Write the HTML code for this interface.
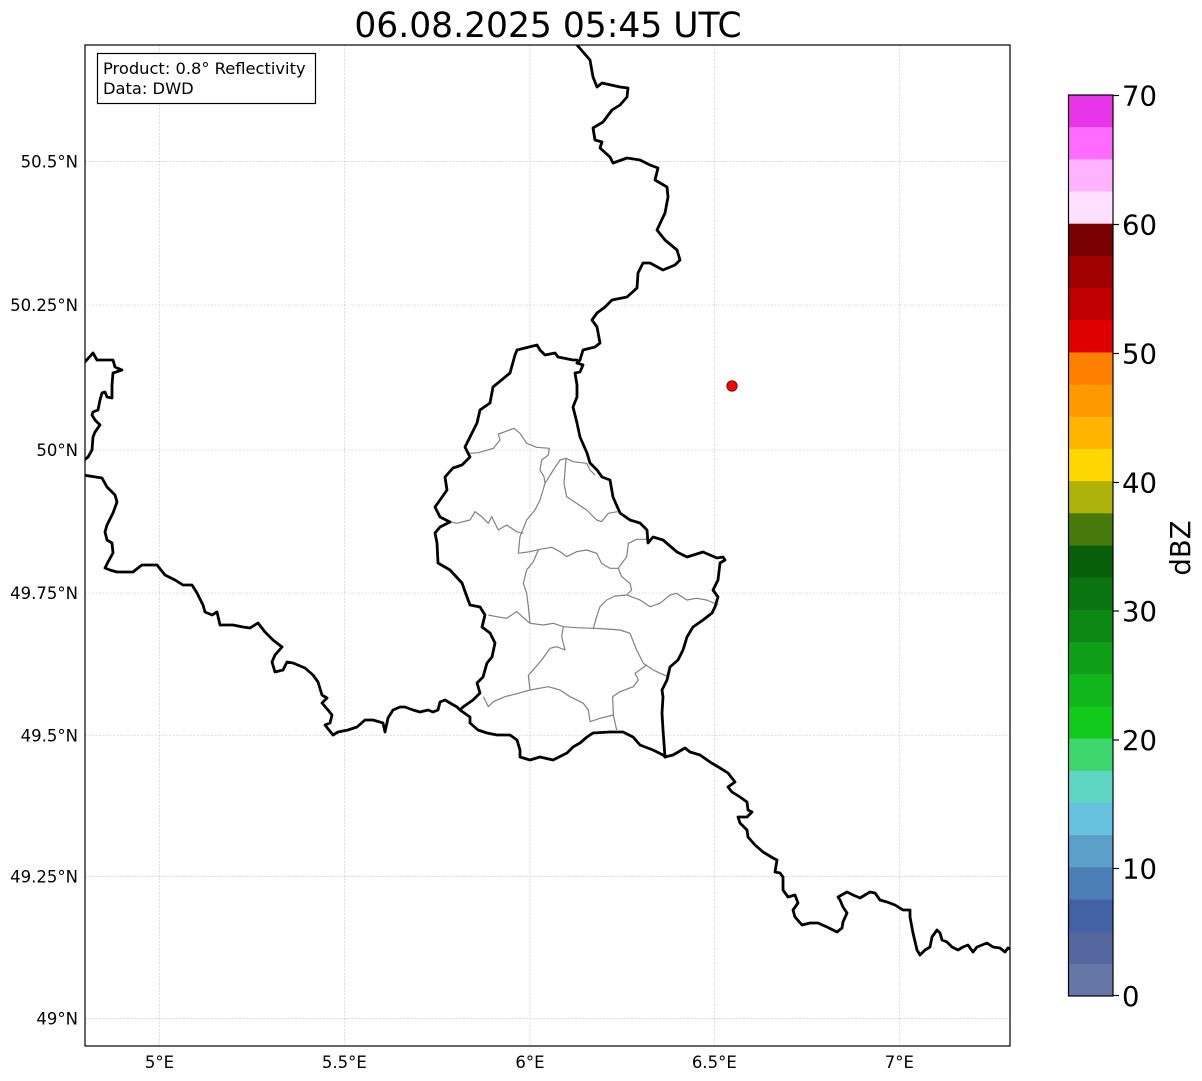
<!DOCTYPE html>
<html>
<head>
<meta charset="utf-8">
<style>
html,body{margin:0;padding:0;background:#fff;}
svg{display:block;}
text{font-family:"DejaVu Sans","Liberation Sans",sans-serif;fill:#000;}
</style>
</head>
<body>
<svg width="1202" height="1081" viewBox="0 0 1202 1081" xmlns="http://www.w3.org/2000/svg">
<rect x="0" y="0" width="1202" height="1081" fill="#fff"/>

<!-- Title -->
<text x="548" y="37" font-size="34.5" text-anchor="middle">06.08.2025 05:45 UTC</text>

<!-- Map axes -->
<defs><clipPath id="mapclip"><rect x="85" y="45" width="925" height="1001"/></clipPath></defs>
<g clip-path="url(#mapclip)">
  <!-- gridlines -->
  <g stroke="#c4c4c4" stroke-width="0.6" stroke-dasharray="2,1.5" fill="none">
    <line x1="159.5" y1="45" x2="159.5" y2="1046"/>
    <line x1="344.3" y1="45" x2="344.3" y2="1046"/>
    <line x1="530" y1="45" x2="530" y2="1046"/>
    <line x1="714.3" y1="45" x2="714.3" y2="1046"/>
    <line x1="899.3" y1="45" x2="899.3" y2="1046"/>
    <line x1="85" y1="161.7" x2="1010" y2="161.7"/>
    <line x1="85" y1="305" x2="1010" y2="305"/>
    <line x1="85" y1="450" x2="1010" y2="450"/>
    <line x1="85" y1="593" x2="1010" y2="593"/>
    <line x1="85" y1="735.5" x2="1010" y2="735.5"/>
    <line x1="85" y1="876.7" x2="1010" y2="876.7"/>
    <line x1="85" y1="1018.7" x2="1010" y2="1018.7"/>
  </g>

  <!-- canton lines (in zoom coords) -->
  <g transform="translate(420,330) scale(0.33333)" fill="none" stroke="#808080" stroke-width="3.6" stroke-linejoin="round">
    <polyline points="150,370 175,368 220,355 240,330 235,312 255,305 282,295 300,310 320,340 350,352 388,355 385,375 365,390 360,420 372,440 375,460"/>
    <polyline points="375,460 400,420 420,390 438,385 460,395 500,400 510,420 525,435"/>
    <polyline points="438,385 432,460 440,500 470,520 500,540 530,570 545,575 565,550 592,545"/>
    <polyline points="375,460 360,510 345,540 320,570 300,620 295,670"/>
    <polyline points="90,575 110,580 150,570 165,545 185,560 205,580 215,560 235,600 260,585 290,605 310,610"/>
    <polyline points="295,670 330,665 360,658 395,652 420,665 440,680 470,665 500,660 530,670 545,700 570,715 595,715 620,680 625,640 650,628 680,628"/>
    <polyline points="595,715 605,740 630,760 635,780 620,795"/>
    <polyline points="355,660 340,695 320,720 310,760 320,790 325,830 330,880"/>
    <polyline points="620,795 585,798 560,810 540,830 530,860 520,895"/>
    <polyline points="620,795 660,810 690,830 720,820 750,795 770,790 800,810 830,805 860,810 895,825"/>
    <polyline points="330,880 370,885 400,880 430,890 470,893 520,895 560,897 600,900 630,910 650,960 670,1000 700,1020 720,1030 745,1040"/>
    <polyline points="330,880 290,845 260,865 230,860 205,855"/>
    <polyline points="430,890 425,920 435,960 410,950 390,955 365,990 335,1025 325,1035"/>
    <polyline points="325,1035 330,1080 295,1090 255,1100 220,1115 205,1130 190,1100"/>
    <polyline points="330,1080 385,1070 420,1080 450,1100 490,1120 505,1140 510,1175 540,1165 580,1155 590,1200"/>
    <polyline points="580,1155 578,1100 600,1085 640,1070 655,1050 645,1030 680,1005"/>
  </g>

  <!-- country borders -->
  <g fill="none" stroke="#000" stroke-width="2.8" stroke-linejoin="round" stroke-linecap="round">
    <polyline points="577,45 590,60 593,77 597,87 602,83 620,87 628,88 627,97 620,105 612,110 603,122 593,128 595,140 602,142 600,148 610,157 613,163 627,158 640,160 650,165 658,168 655,180 667,187 668,197 665,213 657,230 665,240 677,250 680,260 675,265 663,270 650,263 643,263 638,273 637,288 627,297 612,300 605,307 597,313 592,320 597,327 600,343 595,347 583,350 580,360 577,363"/>
    <polyline points="577,363 583,365 580,372 575,373 577,385 577,397 573,407 577,423 580,437 587,453 590,463 597,470 602,477 610,480 613,497 620,513 630,520 640,523 647,530 648,543 653,537 663,540 677,552 687,557 703,552 717,558 723,557 725,560 720,563 718,580 713,590 718,597 715,607 712,613 703,620 693,627 687,637 683,650 678,660 670,667 667,680 662,690 663,697 662,713 663,730 665,757"/>
    <polyline points="577,360 573,360 558,357 555,353 545,355 540,350 537,345 517,350 515,355 510,373 493,387 490,403 480,410 477,423 470,437 465,447 470,457 462,465 453,468 445,477 447,490 440,500 435,507 440,517 450,522 440,527 435,533 437,543 438,563 450,570 462,583 467,597 470,605 480,607 485,615 482,627 490,633 495,643 492,657 487,663 483,677 477,683 480,693 473,700 463,707 460,710"/>
    <polyline points="460,710 470,717 470,723 478,730 487,733 497,735 510,735 517,740 520,750 520,757 530,760 540,757 553,760 567,753 573,747 580,743 587,737 593,733 610,732 623,732 633,737 640,745 653,750 663,755 665,757"/>
    <polyline points="665,757 673,755 685,748 690,752 700,755 710,762 720,768 728,773 735,782 728,787 732,792 740,797 747,802 748,810 752,812 747,817 738,817 740,823 747,830 748,837 755,845 763,852 773,858 777,860 775,872 780,873 783,877 783,890 788,897 795,895 798,903 793,910 795,917 802,925 810,923 818,923 827,927 837,932 842,928 843,922 847,913 843,907 840,900 838,897 847,892 853,895 860,898 870,892 875,893 880,900 887,902 895,905 903,910 910,910 910,917 913,933 917,950 920,955 925,950 930,947 932,937 937,930 940,933 942,940 947,942 952,947 958,950 963,947 968,945 973,952 977,947 987,943 993,947 1000,948 1005,952 1008,948 1012,950"/>
    <polyline points="83,475 102,478 107,487 115,495 117,502 113,513 107,525 105,532 107,540 112,543 113,553 108,562 105,568 110,570 117,572 125,572 133,572 138,568 142,565 157,565 165,575 175,580 183,585 192,585 197,593 203,605 205,612 212,615 217,612 220,625 233,625 243,627 250,628 258,623 265,632 273,640 282,647 275,655 272,662 275,672 283,670 287,662 293,663 305,668 313,675 318,682 322,695 327,698 322,703 328,710 332,715 330,723 325,725 333,735 338,732 348,730 357,727 365,720 373,720 383,723 385,732 388,718 393,710 400,707 405,707 413,710 420,712 428,710 433,712 438,710 440,702 445,700 450,703 457,707 460,710"/>
    <polyline points="83,364 93,353 97,360 113,360 115,367 122,370 113,373 112,385 112,398 107,397 105,392 102,393 100,400 98,410 93,412 92,415 95,420 100,425 95,432 93,437 92,450 88,457 83,461"/>
  </g>

  <!-- radar site -->
  <circle cx="732" cy="386" r="5.2" fill="#ff0000" stroke="#600000" stroke-width="0.8"/>
</g>
<rect x="85" y="45" width="925" height="1001" fill="none" stroke="#000" stroke-width="1.2"/>

<!-- info box -->
<rect x="97.5" y="53.5" width="218" height="50" fill="#fff" stroke="#000" stroke-width="1.2"/>
<text x="103" y="74" font-size="16.3">Product: 0.8° Reflectivity</text>
<text x="103" y="94" font-size="16.3">Data: DWD</text>

<!-- lat labels -->
<g font-size="16.5" text-anchor="end">
  <text x="78" y="167.5">50.5°N</text>
  <text x="78" y="311">50.25°N</text>
  <text x="78" y="456">50°N</text>
  <text x="78" y="599">49.75°N</text>
  <text x="78" y="741.5">49.5°N</text>
  <text x="78" y="882.7">49.25°N</text>
  <text x="78" y="1024.7">49°N</text>
</g>
<!-- lon labels -->
<g font-size="16.5" text-anchor="middle">
  <text x="159.5" y="1068">5°E</text>
  <text x="344.3" y="1068">5.5°E</text>
  <text x="530" y="1068">6°E</text>
  <text x="714.3" y="1068">6.5°E</text>
  <text x="899.3" y="1068">7°E</text>
</g>

<!-- colorbar -->
<g>
  <rect x="1068" y="95.00" width="45" height="32.7" fill="#E935E9"/>
  <rect x="1068" y="127.18" width="45" height="32.7" fill="#FF6BFF"/>
  <rect x="1068" y="159.36" width="45" height="32.7" fill="#FFB3FF"/>
  <rect x="1068" y="191.54" width="45" height="32.7" fill="#FFE0FF"/>
  <rect x="1068" y="223.71" width="45" height="32.7" fill="#780000"/>
  <rect x="1068" y="255.89" width="45" height="32.7" fill="#A00000"/>
  <rect x="1068" y="288.07" width="45" height="32.7" fill="#C00000"/>
  <rect x="1068" y="320.25" width="45" height="32.7" fill="#E00000"/>
  <rect x="1068" y="352.43" width="45" height="32.7" fill="#FF7F00"/>
  <rect x="1068" y="384.61" width="45" height="32.7" fill="#FF9900"/>
  <rect x="1068" y="416.79" width="45" height="32.7" fill="#FFB400"/>
  <rect x="1068" y="448.96" width="45" height="32.7" fill="#FFD700"/>
  <rect x="1068" y="481.14" width="45" height="32.7" fill="#ADB30A"/>
  <rect x="1068" y="513.32" width="45" height="32.7" fill="#477A0A"/>
  <rect x="1068" y="545.50" width="45" height="32.7" fill="#075F0A"/>
  <rect x="1068" y="577.68" width="45" height="32.7" fill="#0A7411"/>
  <rect x="1068" y="609.86" width="45" height="32.7" fill="#0C8814"/>
  <rect x="1068" y="642.04" width="45" height="32.7" fill="#0E9F17"/>
  <rect x="1068" y="674.21" width="45" height="32.7" fill="#10B61A"/>
  <rect x="1068" y="706.39" width="45" height="32.7" fill="#12CA1C"/>
  <rect x="1068" y="738.57" width="45" height="32.7" fill="#3DD76E"/>
  <rect x="1068" y="770.75" width="45" height="32.7" fill="#5ED6C4"/>
  <rect x="1068" y="802.93" width="45" height="32.7" fill="#66C2DE"/>
  <rect x="1068" y="835.11" width="45" height="32.7" fill="#5AA0C8"/>
  <rect x="1068" y="867.29" width="45" height="32.7" fill="#4A7EB5"/>
  <rect x="1068" y="899.46" width="45" height="32.7" fill="#4262A5"/>
  <rect x="1068" y="931.64" width="45" height="32.7" fill="#54689F"/>
  <rect x="1068" y="963.82" width="45" height="32.18" fill="#6676A6"/>
  <rect x="1068.5" y="95" width="44.5" height="901" fill="none" stroke="#000" stroke-width="1.2"/>
  <g stroke="#000" stroke-width="1.2">
    <line x1="1113" y1="95.5" x2="1119" y2="95.5"/>
    <line x1="1113" y1="224.5" x2="1119" y2="224.5"/>
    <line x1="1113" y1="353.5" x2="1119" y2="353.5"/>
    <line x1="1113" y1="482.5" x2="1119" y2="482.5"/>
    <line x1="1113" y1="611" x2="1119" y2="611"/>
    <line x1="1113" y1="740" x2="1119" y2="740"/>
    <line x1="1113" y1="868.5" x2="1119" y2="868.5"/>
    <line x1="1113" y1="995.5" x2="1119" y2="995.5"/>
  </g>
  <g font-size="27.5">
    <text x="1122" y="105.5">70</text>
    <text x="1122" y="234.5">60</text>
    <text x="1122" y="363.5">50</text>
    <text x="1122" y="492.5">40</text>
    <text x="1122" y="621">30</text>
    <text x="1122" y="750">20</text>
    <text x="1122" y="878.5">10</text>
    <text x="1122" y="1006">0</text>
  </g>
  <text x="0" y="0" font-size="27.5" text-anchor="middle" transform="translate(1190,548) rotate(-90)">dBZ</text>
</g>
</svg>
</body>
</html>
